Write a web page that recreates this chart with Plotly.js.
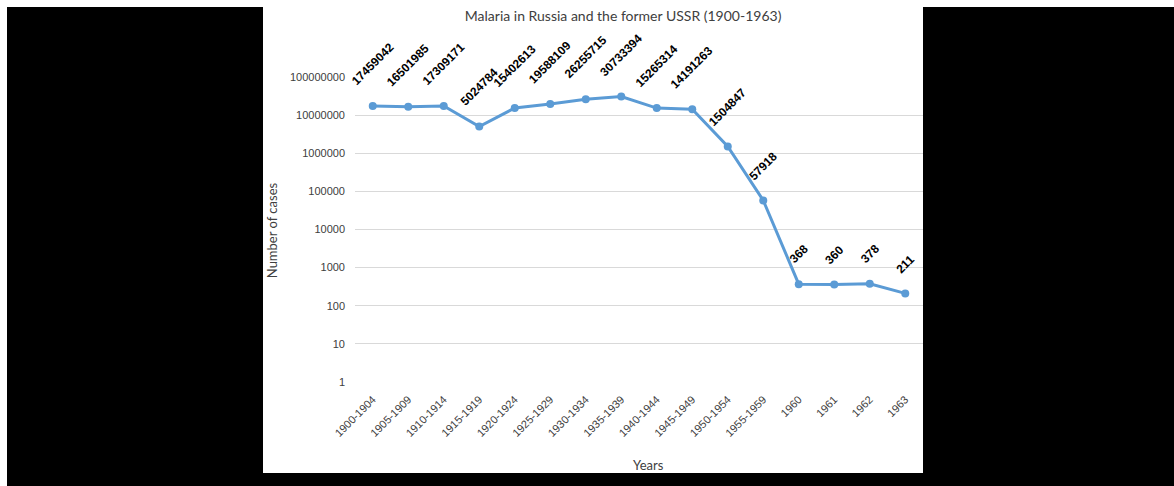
<!DOCTYPE html>
<html>
<head>
<meta charset="utf-8">
<script src="https://cdn.plot.ly/plotly-3.0.1.min.js"></script>
<style>
  html, body { margin: 0; padding: 0; background: #ffffff; width: 1174px; height: 486px; overflow: hidden; }
  #bg { position: absolute; left: 7px; top: 7px; width: 1167px; height: 479px; background: #000000; }
  #chart { position: absolute; left: 263px; top: 0px; width: 660px; height: 473px; background: #ffffff; }
</style>
</head>
<body>
<div id="bg"></div>
<div id="chart"></div>
<script>
const periods = ["1900-1904","1905-1909","1910-1914","1915-1919","1920-1924","1925-1929","1930-1934","1935-1939","1940-1944","1945-1949","1950-1954","1955-1959","1960","1961","1962","1963"];
const cases = [17459042,16501985,17309171,5024784,15402613,19588109,26255715,30733394,15265314,14191263,1504847,57918,368,360,378,211];
const yTickVals = [1,10,100,1000,10000,100000,1000000,10000000,100000000];
const yTickText = ["1","10","100","1000","10000","100000","1000000","10000000","100000000"];

const trace = {
  x: periods,
  y: cases,
  type: "scatter",
  mode: "lines+markers",
  line: { color: "#5B9BD5", width: 3 },
  marker: { color: "#5B9BD5", size: 8 },
  cliponaxis: false,
  hoverinfo: "x+y"
};

const labelAnns = periods.map((p, i) => ({
  x: i, y: Math.log10(cases[i]), xref: "x", yref: "y",
  text: String(cases[i]),
  showarrow: false, textangle: -45,
  xanchor: "center", yanchor: "bottom", yshift: 15,
  font: { family: "Liberation Sans, Arial, sans-serif", size: 12, color: "#000000", weight: "bold" }
}));

const layout = {
  width: 660, height: 473,
  margin: { l: 92, r: 0, t: 77, b: 91 },
  paper_bgcolor: "#ffffff", plot_bgcolor: "#ffffff",
  showlegend: false,
  title: {
    text: "Malaria in Russia and the former USSR (1900-1963)",
    font: { family: "Lato, Liberation Sans, sans-serif", size: 14, color: "#404040" },
    xref: "paper", x: 0.472, xanchor: "center",
    yref: "container", y: 0.966, yanchor: "middle"
  },
  xaxis: {
    type: "category",
    categoryorder: "array", categoryarray: periods,
    range: [-0.5, periods.length - 0.5],
    tickangle: -45,
    tickfont: { family: "Liberation Sans, Arial, sans-serif", size: 11, color: "#404040" },
    showgrid: false, zeroline: false, showline: false, ticks: "",
    ticklabelstandoff: 8,
    fixedrange: true
  },
  yaxis: {
    type: "log", range: [0, 8],
    tickvals: yTickVals, ticktext: yTickText,
    tickfont: { family: "Liberation Sans, Arial, sans-serif", size: 11, color: "#404040" },
    showgrid: true, gridcolor: "#D9D9D9", gridwidth: 1,
    zeroline: false, showline: false, ticks: "", ticklabelstandoff: 9,
    fixedrange: true
  },
  annotations: labelAnns.concat([
    { text: "Number of cases", xref: "paper", yref: "paper", x: -0.146, y: 0.498,
      textangle: -90, showarrow: false, xanchor: "center", yanchor: "middle",
      font: { family: "Lato, Liberation Sans, sans-serif", size: 13, color: "#404040" } },
    { text: "Years", xref: "paper", yref: "paper", x: 0.516, y: -0.272,
      showarrow: false, xanchor: "center", yanchor: "middle",
      font: { family: "Lato, Liberation Sans, sans-serif", size: 13, color: "#404040" } }
  ])
};

Plotly.newPlot("chart", [trace], layout, { displayModeBar: false, staticPlot: true });
</script>
</body>
</html>
